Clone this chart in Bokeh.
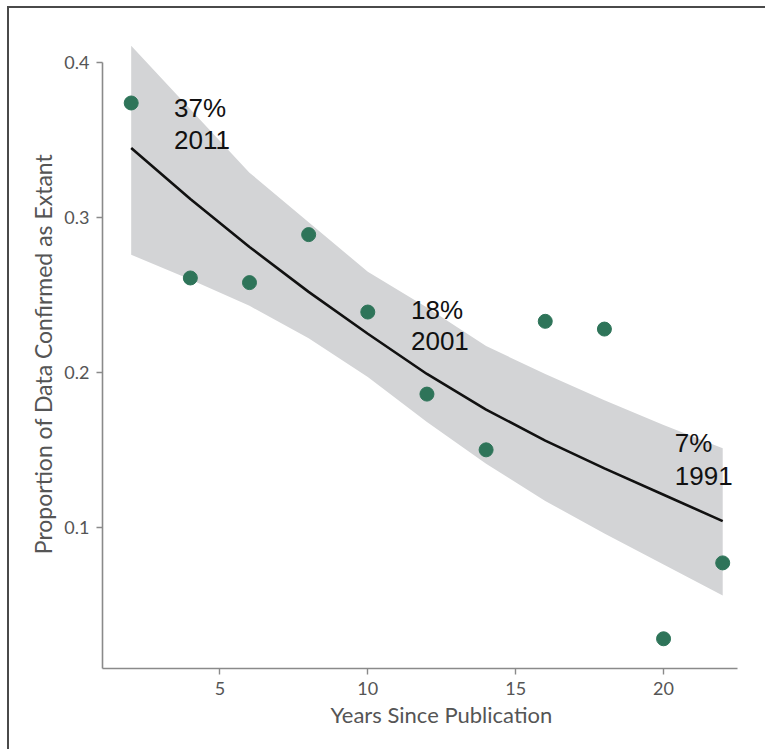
from bokeh.plotting import figure
from bokeh.models import ColumnDataSource, Range1d, FixedTicker, Title
from bokeh.core.properties import value
from bokeh.embed import file_html
from bokeh.resources import INLINE

# ---- data ----
years = [2, 4, 6, 8, 10, 12, 14, 16, 18, 20, 22]
proportion = [0.374, 0.261, 0.258, 0.289, 0.239, 0.186, 0.150, 0.233, 0.228, 0.028, 0.077]
fit = [0.345, 0.312, 0.281, 0.252, 0.225, 0.199, 0.176, 0.156, 0.138, 0.121, 0.104]
fit_upper = [0.411, 0.370, 0.329, 0.297, 0.265, 0.242, 0.217, 0.199, 0.182, 0.166, 0.151]
fit_lower = [0.276, 0.260, 0.243, 0.222, 0.197, 0.168, 0.141, 0.117, 0.096, 0.076, 0.056]

note_pct = ["37%", "18%", "7%"]
note_year = ["2011", "2001", "1991"]
note_x = [3.45, 11.46, 20.38]
note_y_pct = [0.371, 0.2405, 0.1544]
note_y_year = [0.3501, 0.220, 0.1334]

x_ticks = [5, 10, 15, 20]
y_ticks = [0.1, 0.2, 0.3, 0.4]
x_title = "Years Since Publication"
y_title = "Proportion of Data Confirmed as Extant"

p = figure(
    width=758, height=743,
    x_range=Range1d(1.03, 22.5), y_range=Range1d(0.0088, 0.415),
    output_backend="svg", toolbar_location=None,
    min_border_left=93, min_border_right=30, min_border_top=31, min_border_bottom=83,
)
p.styles = {"margin-left": "7px", "margin-top": "6px",
            "border-left": "2px solid #4a4a4a", "border-top": "2px solid #4a4a4a"}
p.background_fill_color = "white"
p.border_fill_color = "white"
p.outline_line_color = None
p.grid.visible = False

band_src = ColumnDataSource(dict(x=years, lo=fit_lower, hi=fit_upper))
p.varea(x="x", y1="lo", y2="hi", source=band_src, fill_color="#d3d4d6", fill_alpha=1.0)
p.line(years, fit, line_color="#111111", line_width=2.6)
p.scatter(years, proportion, size=14, fill_color="#2e7459", line_color="#2e7459")

p.text(x=note_x, y=note_y_pct, text=note_pct, text_font=value("Liberation Sans"),
       text_font_size="26px", text_baseline="alphabetic", text_color="#111111")
p.text(x=note_x, y=note_y_year, text=note_year, text_font=value("Liberation Sans"),
       text_font_size="26px", text_baseline="alphabetic", text_color="#111111")

for ax in (p.xaxis[0], p.yaxis[0]):
    ax.axis_line_color = "#8a8a8a"
    ax.axis_line_width = 1.6
    ax.major_tick_line_color = "#8a8a8a"
    ax.major_tick_line_width = 1.4
    ax.major_tick_out = 6
    ax.major_tick_in = 0
    ax.minor_tick_line_color = None
    ax.major_label_text_font = "Lato"
    ax.major_label_text_font_size = "18px"
    ax.major_label_text_color = "#555555"
    ax.axis_label_text_font = "Lato"
    ax.axis_label_text_font_size = "23px"
    ax.axis_label_text_font_style = "normal"
    ax.axis_label_text_color = "#555555"
    ax.major_label_standoff = 7

p.xaxis[0].ticker = FixedTicker(ticks=x_ticks)
p.yaxis[0].ticker = FixedTicker(ticks=y_ticks)
p.yaxis[0].axis_label = y_title
p.yaxis[0].axis_label_standoff = 4
p.yaxis[0].bounds = (0.0088, 0.4)

# x-axis title sits a little right of the frame centre in the reference
p.add_layout(Title(text=x_title, align="left", offset=228, standoff=2,
                   text_font="Lato", text_font_size="22px", text_font_style="normal",
                   text_color="#555555"), "below")

open("out.html", "w").write(file_html(p, INLINE))
